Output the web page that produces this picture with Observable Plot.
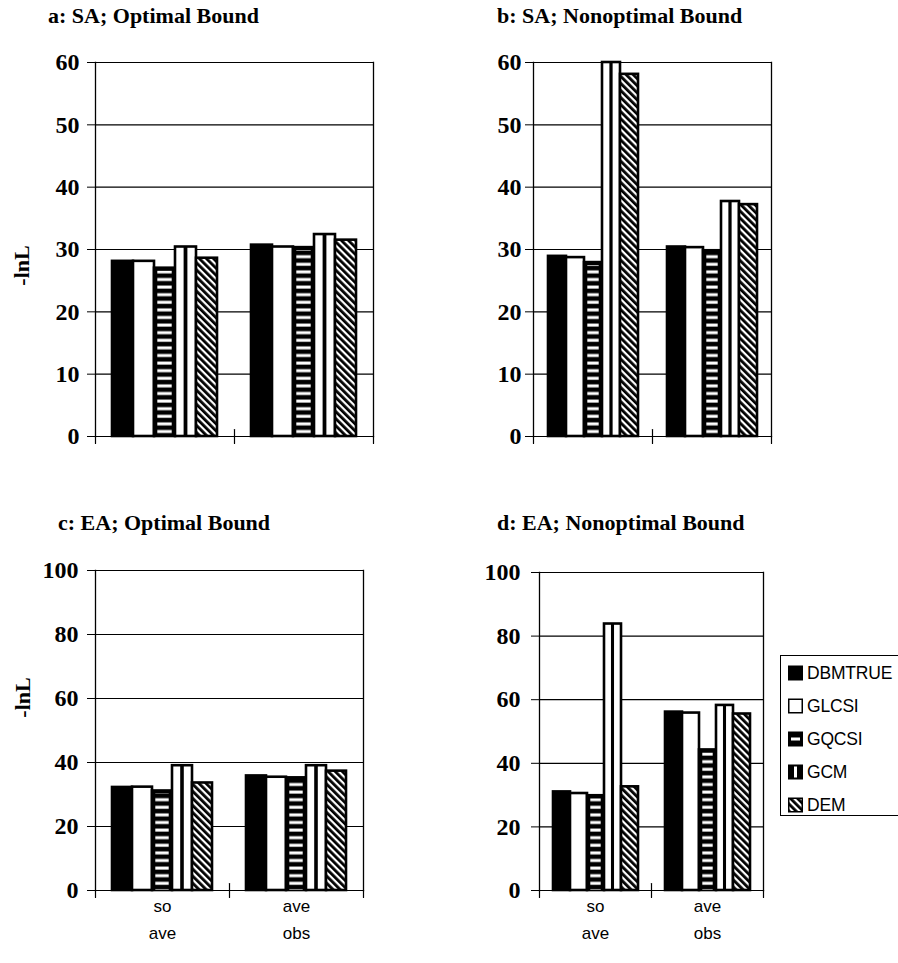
<!DOCTYPE html>
<html><head><meta charset="utf-8">
<script src="https://cdn.jsdelivr.net/npm/d3@7"></script>
<script src="https://cdn.jsdelivr.net/npm/@observablehq/plot@0.6"></script>
<style>
body{margin:0;background:#fff;}
#root{position:relative;width:898px;height:963px;background:#fff;overflow:hidden;}
.title{position:absolute;font-family:"Liberation Serif",serif;font-weight:bold;font-size:22px;line-height:1;white-space:nowrap;color:#000;transform:translate(0,-50%);}
</style></head><body>
<svg width="0" height="0" style="position:absolute;left:0;top:0">
<defs>
<pattern id="hwhite" patternUnits="userSpaceOnUse" width="8" height="7.6">
  <rect y="2.4" width="8" height="3" fill="white"/>
</pattern>
<pattern id="vstripe" patternUnits="objectBoundingBox" patternContentUnits="objectBoundingBox" width="1" height="1">
  <rect width="1" height="1" fill="white"/>
  <rect x="0.41" width="0.18" height="1" fill="black"/>
</pattern>
<pattern id="diag" patternUnits="userSpaceOnUse" width="6" height="5" patternTransform="rotate(45)">
  <rect width="6" height="5" fill="black"/>
  <rect width="6" height="2.2" fill="white"/>
</pattern>
</defs></svg>
<div id="root"></div>
<script>
// ---- data ----
const series = ["DBMTRUE", "GLCSI", "GQCSI", "GCM", "DEM"];
const categories = ["so ave", "ave obs"];
const categoryLabels = ["so\nave", "ave\nobs"];
// panel a: SA; Optimal Bound
const aSoAve  = [28.1, 28.1, 27.0, 30.4, 28.6];
const aAveObs = [30.7, 30.4, 30.3, 32.4, 31.5];
// panel b: SA; Nonoptimal Bound
const bSoAve  = [28.9, 28.7, 27.9, 60.0, 58.1];
const bAveObs = [30.4, 30.3, 29.8, 37.7, 37.2];
// panel c: EA; Optimal Bound
const cSoAve  = [32.2, 32.3, 31.1, 39.0, 33.6];
const cAveObs = [35.8, 35.4, 35.2, 39.0, 37.3];
// panel d: EA; Nonoptimal Bound
const dSoAve  = [31.0, 30.5, 29.8, 83.8, 32.6];
const dAveObs = [56.1, 55.8, 44.2, 58.2, 55.5];
const ticksSA = [0, 10, 20, 30, 40, 50, 60];
const ticksEA = [0, 20, 40, 60, 80, 100];
const titles = ["a: SA; Optimal Bound", "b: SA; Nonoptimal Bound", "c: EA; Optimal Bound", "d: EA; Nonoptimal Bound"];
const yLabel = "-lnL";
const fills = ["black", "white", "black", "url(#vstripe)", "url(#diag)"];

const root = document.getElementById("root");
const labelMap = new Map(categories.map((c, i) => [c, categoryLabels[i]]));

const tickDown = {draw(ctx, l) { ctx.moveTo(0, 0); ctx.lineTo(0, l); }};
const tickCross = {draw(ctx, l) { ctx.moveTo(0, -l); ctx.lineTo(0, l); }};

function panel({vals, ticks, svg, frame, label, labelDx, labelDy, xAxis, tickPadding}) {
  const data = categories.flatMap((c, ci) => series.map((s, si) => ({cat: c, series: s, value: vals[ci][si]})));
  const [L, T, W, H] = svg;
  const [fl, ft, fr, fb] = frame;
  const marks = [
    Plot.gridY(ticks, {stroke: "black", strokeOpacity: 1, strokeWidth: 1.2}),
    Plot.barY(data, {fx: "cat", x: "series", y: "value", fill: "series", stroke: "black", strokeWidth: 2.6}),
    Plot.barY(data.filter(d => d.series === "GQCSI"), {fx: "cat", x: "series", y: "value", fill: "url(#hwhite)", insetLeft: 3.3, insetRight: 3.3, insetTop: 3}),
    Plot.frame({anchor: "left", facetAnchor: "left", stroke: "black", strokeWidth: 1.3}),
    Plot.frame({anchor: "right", facetAnchor: "right", stroke: "black", strokeWidth: 1.3}),
    Plot.vector([0], {frameAnchor: "bottom-left", facetAnchor: "left", shape: tickDown, length: 7, anchor: "start", stroke: "black", strokeWidth: 1.2}),
    Plot.vector([0], {frameAnchor: "bottom-right", facetAnchor: "left", shape: tickCross, length: 7, anchor: "start", stroke: "black", strokeWidth: 1.2}),
    Plot.vector([0], {frameAnchor: "bottom-right", facetAnchor: "right", shape: tickDown, length: 7, anchor: "start", stroke: "black", strokeWidth: 1.2}),
    Plot.axisY(ticks, {anchor: "left", tickSize: 8, tickPadding, label: null})
  ];
  if (label) marks.push(Plot.text([label], {text: d => d, frameAnchor: "left", facetAnchor: "left", textAnchor: "middle", lineAnchor: "middle", rotate: -90, dx: labelDx, dy: labelDy, fontSize: 22, fontWeight: "bold", fontFamily: "Liberation Serif", fill: "black"}));
  if (xAxis) marks.push(Plot.axisFx({anchor: "bottom", tickSize: 0, tickPadding: 2, tickFormat: d => labelMap.get(d), fontFamily: "Liberation Sans", fontWeight: "normal", fontSize: 17, lineHeight: 1.6, label: null}));
  const p = Plot.plot({
    width: W, height: H,
    marginLeft: fl - L, marginRight: L + W - fr, marginTop: ft - T, marginBottom: T + H - fb,
    style: {fontFamily: '"Liberation Serif", serif', fontWeight: "bold", fontSize: "24px", background: "transparent", overflow: "visible", color: "black"},
    fx: xAxis ? {domain: categories, padding: 0} : {domain: categories, padding: 0, axis: null},
    x: {domain: series, paddingInner: 0, paddingOuter: 0.7, axis: null},
    y: {domain: [0, ticks[ticks.length - 1]]},
    color: {domain: series, range: fills},
    marks
  });
  p.style.position = "absolute";
  p.style.left = L + "px";
  p.style.top = T + "px";
  root.append(p);
}

panel({vals: [aSoAve, aAveObs], ticks: ticksSA, svg: [0, 40, 390, 425], frame: [95, 62, 373, 436], label: yLabel, labelDx: -74, labelDy: 16, xAxis: false, tickPadding: 8});
panel({vals: [bSoAve, bAveObs], ticks: ticksSA, svg: [440, 40, 350, 425], frame: [532, 62, 771, 436], label: null, xAxis: false, tickPadding: 4});
panel({vals: [cSoAve, cAveObs], ticks: ticksEA, svg: [0, 545, 380, 418], frame: [94, 570, 363, 890], label: yLabel, labelDx: -73, labelDy: -33, xAxis: true, tickPadding: 9});
panel({vals: [dSoAve, dAveObs], ticks: ticksEA, svg: [440, 545, 340, 418], frame: [539, 572, 763, 890], label: null, xAxis: true, tickPadding: 11});

// titles
[[48, 16], [497, 16], [58, 523], [497, 523]].forEach(([x, y], i) => {
  const d = document.createElement("div");
  d.className = "title";
  d.style.left = x + "px";
  d.style.top = y + "px";
  d.textContent = titles[i];
  root.append(d);
});

// legend
const leg = d3.select(root).append("svg")
  .attr("width", 118).attr("height", 162)
  .style("position", "absolute").style("left", "780px").style("top", "655px").style("overflow", "visible");
leg.append("rect").attr("x", 0.5).attr("y", 0.5).attr("width", 160).attr("height", 160)
  .attr("fill", "white").attr("stroke", "black").attr("stroke-width", 1);
series.forEach((s, i) => {
  const g = leg.append("g").attr("transform", `translate(8,${18 + 33 * i})`);
  if (i === 0) g.append("rect").attr("y", -7.5).attr("width", 15).attr("height", 15).attr("fill", "black");
  if (i === 1) g.append("rect").attr("x", 0.75).attr("y", -6.75).attr("width", 13.5).attr("height", 13.5).attr("fill", "white").attr("stroke", "black").attr("stroke-width", 1.5);
  if (i === 2) { g.append("rect").attr("y", -7.5).attr("width", 15).attr("height", 15).attr("fill", "black");
                 g.append("rect").attr("x", 3).attr("y", -1.5).attr("width", 9).attr("height", 3).attr("fill", "white"); }
  if (i === 3) { g.append("rect").attr("y", -7.5).attr("width", 15).attr("height", 15).attr("fill", "black");
                 g.append("rect").attr("x", 6).attr("y", -5.5).attr("width", 3).attr("height", 11).attr("fill", "white"); }
  if (i === 4) g.append("rect").attr("x", 0.75).attr("y", -6.75).attr("width", 13.5).attr("height", 13.5).attr("fill", "url(#diag)").attr("stroke", "black").attr("stroke-width", 1.5);
  g.append("text").attr("x", 19).attr("y", 0).attr("dy", "0.36em")
    .attr("font-family", "Liberation Sans, Arial, sans-serif").attr("font-size", 17.5).attr("letter-spacing", -0.2)
    .text(s);
});
</script>
</body></html>
